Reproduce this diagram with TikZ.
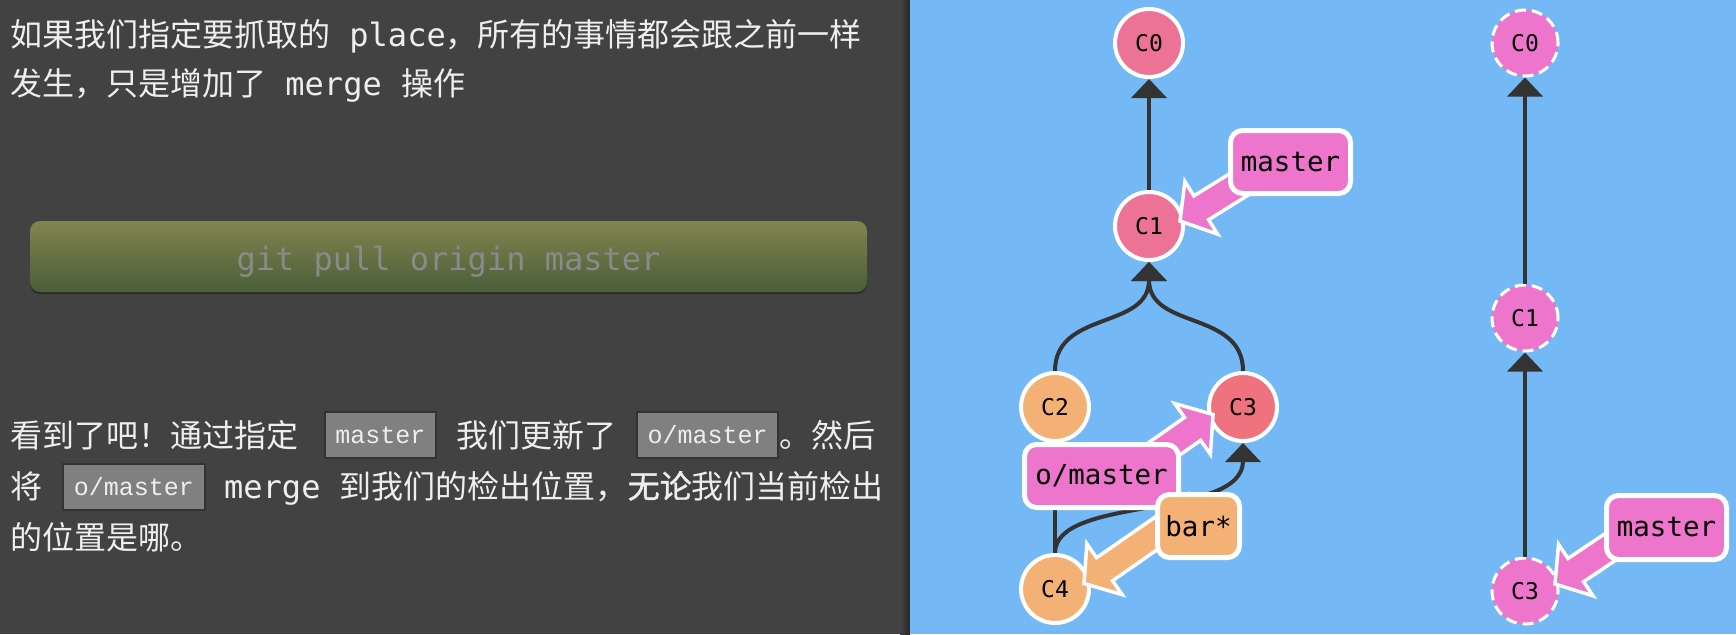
\documentclass[tikz,border=0pt]{standalone}
\usepackage{fontspec}
\usetikzlibrary{arrows.meta,calc}
\newfontfamily\cjk{Noto Sans CJK SC}
\newfontfamily\cjkb[FakeBold=1.2]{Noto Sans CJK SC}
\newfontfamily\mono{DejaVu Sans Mono}
\newfontfamily\cmono{Liberation Mono}
\definecolor{panel}{HTML}{424242}
\definecolor{panelshadow}{HTML}{262626}
\definecolor{bgblue}{HTML}{74B9F5}
\definecolor{cpink}{HTML}{ED7396}
\definecolor{cred}{HTML}{EF727E}
\definecolor{corange}{HTML}{F4B176}
\definecolor{lpink}{HTML}{EE75CC}
\definecolor{lineC}{HTML}{333333}
\definecolor{txtW}{HTML}{EEEEEE}
\definecolor{codebg}{HTML}{808080}
\definecolor{btntop}{HTML}{82844F}
\definecolor{btnbot}{HTML}{4A5E38}
\definecolor{btnshadow}{HTML}{2C2C2C}
\definecolor{btntxt}{HTML}{8A8A8A}
% fat arrow: #1 start coordinate, #2 tip coordinate, #3 fill colour
\newcommand\fatarr[3]{%
  \coordinate (fab) at ($(#2)!25pt!(#1)$);
  \filldraw[fill=#3, draw=white, line width=3.5pt, line join=miter]
    ($(#1)!14pt!90:(#2)$) -- ($(fab)!14pt!90:(#2)$) -- ($(fab)!31pt!90:(#2)$) -- (#2)
    -- ($(fab)!31pt!-90:(#2)$) -- ($(fab)!14pt!-90:(#2)$) -- ($(#1)!14pt!-90:(#2)$) -- cycle;
}
\begin{document}
\begin{tikzpicture}[x=1pt,y=-1pt,
  txt/.style={anchor=base west, inner sep=0pt, text=txtW, font=\cjk\fontsize{32}{38}\selectfont},
  codebox/.style={draw=lineC, fill=codebg, line width=2pt, inner sep=0pt, minimum height=46pt, text=txtW, font=\cmono\fontsize{25}{30}\selectfont},
  commit/.style={circle, draw=white, line width=4pt, minimum size=68pt, inner sep=0pt, text=black, font=\mono\fontsize{23}{28}\selectfont},
  dcommit/.style={circle, draw=white, line width=3pt, dash pattern=on 11pt off 6pt, fill=lpink, minimum size=66pt, inner sep=0pt, text=black, font=\mono\fontsize{23}{28}\selectfont},
  edge/.style={draw=lineC, line width=4pt, -{Triangle[width=35pt,length=19pt]}},
  blabel/.style={rounded corners=12pt, draw=white, line width=5pt, inner sep=0pt, minimum height=63pt, text=black, font=\mono\fontsize{27.5}{32}\selectfont},
]
\useasboundingbox (0,0) rectangle (1736,634);
% backgrounds
\fill[panel] (0,0) rectangle (901,634);
\shade[left color=panel, right color=panelshadow] (900,0) rectangle (910,634);
\fill[bgblue] (910,0) rectangle (1736,634);

% left panel text
\node[txt] (t1) at (10,47) {如果我们指定要抓取的{\mono\ place}，所有的事情都会跟之前一样};
\node[txt] (t2) at (10,95) {发生，只是增加了{\mono\ merge\ }操作};

% button
\fill[btnshadow, rounded corners=10pt] (30,224) rectangle (867,294);
\shade[top color=btntop, bottom color=btnbot, rounded corners=10pt] (30,221) rectangle (867,292);
\node[anchor=base, inner sep=0pt, text=btntxt, font=\mono\fontsize{32}{38}\selectfont] (btn) at (448.5,270) {git pull origin master};

% bottom paragraph
\node[txt] (b1a) at (10,447) {看到了吧！通过指定};
\node[codebox, minimum width=111pt] (k1) at (380.5,435) {master};
\node[txt] (b1b) at (456,447) {我们更新了};
\node[codebox, minimum width=141pt] (k2) at (707.5,435) {o/master};
\node[txt] (b1c) at (779,447) {。然后};
\node[txt] (b2a) at (10,498) {将};
\node[codebox, minimum width=142pt] (k3) at (134,487) {o/master};
\node[txt] (b2b) at (224,498) {{\mono merge\ }到我们的检出位置，{\cjkb 无论}我们当前检出};
\node[txt] (b3) at (10,549) {的位置是哪。};

% left tree
\node[commit, fill=cpink] (C0) at (1149,43) {C0};
\node[commit, fill=cpink] (C1) at (1149,226) {C1};
\node[commit, fill=corange] (C2) at (1055,407) {C2};
\node[commit, fill=cred] (C3) at (1243,407) {C3};
\node[commit, fill=corange] (C4) at (1055,589) {C4};
\draw[edge] (C1) -- (C0);
\draw[edge] (C2.north) .. controls (1055,310) and (1149,330) .. (C1.south);
\draw[edge] (C3.north) .. controls (1243,310) and (1149,330) .. (C1.south);
\draw[edge] (C4) -- (C2);
\draw[edge] (C4.north) .. controls (1055,495) and (1243,520) .. (C3.south);

% right tree
\node[dcommit] (R0) at (1525,43) {C0};
\node[dcommit] (R1) at (1525,318) {C1};
\node[dcommit] (R3) at (1525,591) {C3};
\draw[edge] (R1) -- (R0);
\draw[edge] (R3) -- (R1);

% branch labels with fat arrows
\coordinate (mS) at (1296,149);
\coordinate (mT) at (1180,221);
\fatarr{mS}{mT}{lpink}
\node[blabel, fill=lpink, minimum width=120pt] (m1) at (1290.5,162) {master};

\coordinate (oS) at (1100,494);
\coordinate (oT) at (1213,414.5);
\fatarr{oS}{oT}{lpink}
\node[blabel, fill=lpink, minimum width=154pt] (om) at (1101.5,476) {o/master};

\coordinate (bS) at (1197,505);
\coordinate (bT) at (1084,583.5);
\fatarr{bS}{bT}{corange}
\node[blabel, fill=corange, minimum width=82pt] (bar) at (1198.5,526) {bar*};

\coordinate (rS) at (1667,509);
\coordinate (rT) at (1555,584);
\fatarr{rS}{rT}{lpink}
\node[blabel, fill=lpink, minimum width=120pt, minimum height=64pt] (m2) at (1666.5,527.5) {master};
\end{tikzpicture}
\end{document}
